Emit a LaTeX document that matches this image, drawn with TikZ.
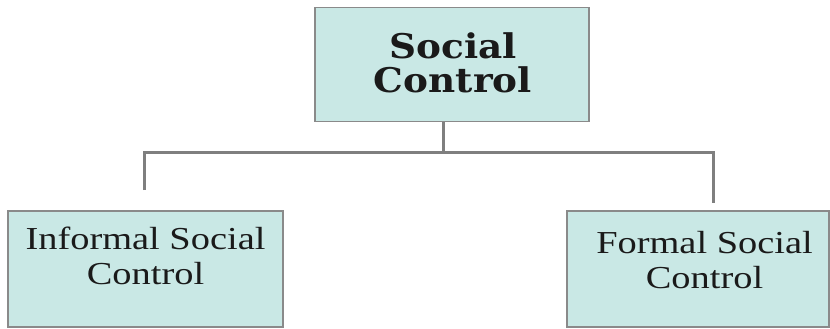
\documentclass[tikz,border=0pt]{standalone}
\usepackage{fontspec}
\usepackage{graphicx}
\setmainfont{Liberation Serif}
\newfontfamily\slabfont{DejaVu Serif}
\definecolor{boxfill}{HTML}{C9E8E5}
\definecolor{boxline}{HTML}{8A8A8A}
\definecolor{connline}{HTML}{7F7F7F}
\definecolor{txt}{HTML}{1A1A1A}
\tikzset{
  box/.style={draw=boxline, fill=boxfill, line width=1.3pt, inner sep=0pt},
  conn/.style={draw=connline, line width=3pt},
  lowtxt/.style={text=txt, align=center, inner sep=0pt, font=\fontsize{32}{35}\selectfont},
  toptxt/.style={text=txt, align=center, inner sep=0pt, font=\slabfont\bfseries\fontsize{34}{34}\selectfont},
}
\begin{document}
\begin{tikzpicture}[x=1pt,y=-1pt]
\useasboundingbox (0,0) rectangle (830,329);
\node[box, minimum width=274pt, minimum height=114pt] (top) at (452,64.5) {};
\node[box, minimum width=275pt, minimum height=116pt] (left) at (145.5,269) {};
\node[box, minimum width=262pt, minimum height=116pt] (right) at (698,269) {};
\node[toptxt] (toplbl) at (453,63) {\scalebox{1.1}[1]{Social}\\\scalebox{1.1}[1]{Control}};
\node[lowtxt] (leftlbl) at (145.5,256) {\scalebox{1.2}[1]{Informal Social}\\\scalebox{1.2}[1]{Control}};
\node[lowtxt] (rightlbl) at (704.5,260) {\scalebox{1.2}[1]{Formal Social}\\\scalebox{1.2}[1]{Control}};
\coordinate (j1) at (443,152);
\coordinate (lend) at (144,190);
\coordinate (rend) at (713,203);
\draw[conn] (top.south -| j1) -- (j1);
\draw[conn] (lend) |- (j1) -| (rend);
\end{tikzpicture}
\end{document}
